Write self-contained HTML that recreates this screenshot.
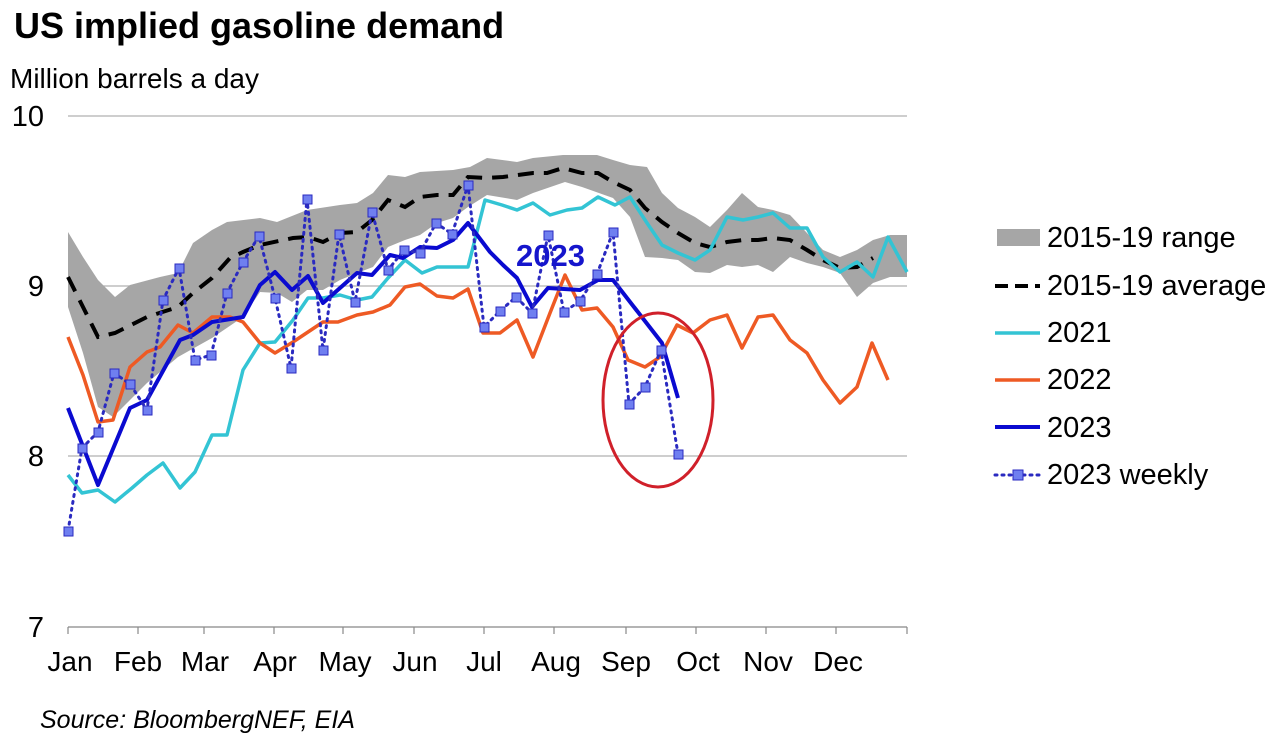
<!DOCTYPE html>
<html><head><meta charset="utf-8"><style>
body{margin:0;background:#fff;width:1280px;height:737px;overflow:hidden;font-family:"Liberation Sans",Arial,sans-serif}
</style></head><body>
<svg width="1280" height="737" viewBox="0 0 1280 737" xmlns="http://www.w3.org/2000/svg" font-family="Liberation Sans, Arial, sans-serif">
<text x="14" y="38" font-size="36" font-weight="bold" fill="#000">US implied gasoline demand</text>
<text x="10" y="88" font-size="28" fill="#000">Million barrels a day</text>
<g font-size="29" fill="#000" text-anchor="end">
<text x="44" y="126">10</text><text x="44" y="296">9</text><text x="44" y="466">8</text><text x="44" y="637">7</text>
</g>
<g stroke="#b0b0b0" stroke-width="1.2">
<line x1="68" y1="116" x2="907" y2="116"/><line x1="68" y1="286" x2="907" y2="286"/><line x1="68" y1="456" x2="907" y2="456"/>
</g>
<line x1="68" y1="627" x2="907" y2="627" stroke="#888" stroke-width="1.2"/>
<g stroke="#888" stroke-width="1.2">
<line x1="68" y1="627" x2="68" y2="634"/><line x1="138" y1="627" x2="138" y2="634"/><line x1="204" y1="627" x2="204" y2="634"/><line x1="274" y1="627" x2="274" y2="634"/><line x1="343" y1="627" x2="343" y2="634"/><line x1="414" y1="627" x2="414" y2="634"/><line x1="484" y1="627" x2="484" y2="634"/><line x1="554" y1="627" x2="554" y2="634"/><line x1="626" y1="627" x2="626" y2="634"/><line x1="696" y1="627" x2="696" y2="634"/><line x1="766" y1="627" x2="766" y2="634"/><line x1="836" y1="627" x2="836" y2="634"/><line x1="907" y1="627" x2="907" y2="634"/>
</g>
<g font-size="28" fill="#000" text-anchor="middle">
<text x="70" y="671">Jan</text><text x="138" y="671">Feb</text><text x="205" y="671">Mar</text><text x="275" y="671">Apr</text><text x="345" y="671">May</text><text x="415" y="671">Jun</text><text x="484" y="671">Jul</text><text x="556" y="671">Aug</text><text x="626" y="671">Sep</text><text x="698" y="671">Oct</text><text x="768" y="671">Nov</text><text x="838" y="671">Dec</text>
</g>
<polygon fill="#a6a6a6" points="68,232 83,257 98,280 115,297 130,285 160,277 178,273 193,243 212,230 227,222 260,218 277,222 307,210 340,205 357,203 373,193 388,175 405,177 420,172 453,170 470,167 487,158 517,162 533,158 563,155 597,155 613,160 630,165 647,167 662,193 678,208 695,217 710,227 727,210 742,193 758,207 773,210 790,215 807,233 823,250 840,257 857,250 873,240 890,235 907,235 907,277 890,277 873,283 857,297 840,273 823,267 807,263 790,257 773,272 758,265 742,267 727,265 710,273 695,272 678,260 662,258 645,257 630,217 613,198 582,187 565,182 533,193 517,200 487,195 468,207 453,218 437,223 420,235 405,240 388,247 373,267 357,273 340,280 323,290 307,290 292,302 277,293 260,292 243,317 212,338 178,357 147,383 130,400 113,417 98,407 83,353 68,307"/>
<polyline fill="none" stroke="#000" stroke-width="4" stroke-dasharray="16,10" points="68,277 83,307 98,337 115,333 147,317 178,307 193,293 212,278 230,258 243,252 260,245 293,238 308,237 323,242 340,233 357,232 372,220 388,200 405,207 420,197 437,195 453,195 468,177 487,178 503,177 533,173 547,173 563,168 582,173 598,173 613,182 630,190 645,208 662,222 678,233 695,243 710,247 727,242 743,240 758,240 773,238 790,240 807,250 823,260 840,268 857,267 873,258"/>
<polyline fill="none" stroke="#33c4d4" stroke-width="3.5" stroke-linejoin="round" points="68,475 82,493 98,490 115,502 132,488 147,475 163,463 180,488 195,472 212,435 227,435 243,370 260,343 275,342 293,320 308,298 323,298 340,295 357,300 372,297 388,278 405,260 422,273 437,267 453,267 468,267 485,200 502,205 517,210 533,203 550,215 567,210 582,208 598,197 615,205 630,197 647,223 662,245 678,253 695,260 710,250 727,217 743,220 758,217 773,213 790,228 807,228 823,257 840,272 857,262 873,277 888,237 907,272"/>
<polyline fill="none" stroke="#ee5a24" stroke-width="3.5" stroke-linejoin="round" points="68,337 83,375 98,422 113,420 130,367 147,352 160,347 178,325 193,333 212,317 230,317 243,322 260,343 275,353 293,342 323,322 338,322 357,315 373,312 390,305 405,287 420,284 437,296 453,298 468,289 483,333 500,333 517,320 533,357 550,313 565,275 582,310 597,308 613,327 628,360 645,367 660,357 677,325 693,333 710,320 727,315 742,348 758,317 773,315 790,340 807,353 823,380 840,403 857,387 872,343 888,380"/>
<polyline fill="none" stroke="#0a0ad0" stroke-width="4" stroke-linejoin="round" points="68,408 98,485 130,408 147,400 180,340 193,335 212,322 243,317 260,285 275,272 292,290 308,276 323,303 357,273 372,275 390,255 403,258 420,247 437,248 453,240 468,223 490,252 503,265 517,278 532,307 548,288 580,290 598,280 613,280 662,343 678,398"/>
<polyline fill="none" stroke="#2a2ac0" stroke-width="3" stroke-dasharray="2,5" stroke-linecap="round" points="68,531 82,448 98,432 114,373 130,384 147,410 163,300 179,268 195,360 211,355 227,293 243,262 259,236 275,298 291,368 307,199 323,350 339,234 355,302 372,212 388,270 404,250 420,253 436,223 452,234 468,185 484,327 500,311 516,297 532,313 548,235 564,312 580,301 597,274 613,232 629,404 645,387 661,350 678,454"/>
<g fill="#6f7ff0" stroke="#2a2ac0" stroke-width="1">
<rect x="64" y="527" width="9" height="9"/><rect x="78" y="444" width="9" height="9"/><rect x="94" y="428" width="9" height="9"/><rect x="110" y="369" width="9" height="9"/><rect x="126" y="380" width="9" height="9"/><rect x="143" y="406" width="9" height="9"/><rect x="159" y="296" width="9" height="9"/><rect x="175" y="264" width="9" height="9"/><rect x="191" y="356" width="9" height="9"/><rect x="207" y="351" width="9" height="9"/><rect x="223" y="289" width="9" height="9"/><rect x="239" y="258" width="9" height="9"/><rect x="255" y="232" width="9" height="9"/><rect x="271" y="294" width="9" height="9"/><rect x="287" y="364" width="9" height="9"/><rect x="303" y="195" width="9" height="9"/><rect x="319" y="346" width="9" height="9"/><rect x="335" y="230" width="9" height="9"/><rect x="351" y="298" width="9" height="9"/><rect x="368" y="208" width="9" height="9"/><rect x="384" y="266" width="9" height="9"/><rect x="400" y="246" width="9" height="9"/><rect x="416" y="249" width="9" height="9"/><rect x="432" y="219" width="9" height="9"/><rect x="448" y="230" width="9" height="9"/><rect x="464" y="181" width="9" height="9"/><rect x="480" y="323" width="9" height="9"/><rect x="496" y="307" width="9" height="9"/><rect x="512" y="293" width="9" height="9"/><rect x="528" y="309" width="9" height="9"/><rect x="544" y="231" width="9" height="9"/><rect x="560" y="308" width="9" height="9"/><rect x="576" y="297" width="9" height="9"/><rect x="593" y="270" width="9" height="9"/><rect x="609" y="228" width="9" height="9"/><rect x="625" y="400" width="9" height="9"/><rect x="641" y="383" width="9" height="9"/><rect x="657" y="346" width="9" height="9"/><rect x="674" y="450" width="9" height="9"/>
</g>
<text x="516" y="266" font-size="31" font-weight="bold" fill="#1515cc">2023</text>
<ellipse cx="658" cy="400" rx="55" ry="87" fill="none" stroke="#d0202a" stroke-width="3"/>
<rect x="997" y="229" width="43" height="17" fill="#a6a6a6"/>
<line x1="995" y1="286" x2="1040" y2="286" stroke="#000" stroke-width="4" stroke-dasharray="13,7"/>
<line x1="995" y1="333" x2="1040" y2="333" stroke="#33c4d4" stroke-width="3.5"/>
<line x1="995" y1="380" x2="1040" y2="380" stroke="#ee5a24" stroke-width="3.5"/>
<line x1="995" y1="427" x2="1040" y2="427" stroke="#0a0ad0" stroke-width="4"/>
<line x1="995" y1="475" x2="1040" y2="475" stroke="#2a2ac0" stroke-width="3" stroke-dasharray="2,5" stroke-linecap="round"/>
<rect x="1013" y="470" width="10" height="10" fill="#6f7ff0" stroke="#2a2ac0"/>
<g font-size="29" fill="#000">
<text x="1047" y="247">2015-19 range</text><text x="1047" y="295">2015-19 average</text><text x="1047" y="342">2021</text><text x="1047" y="389">2022</text><text x="1047" y="437">2023</text><text x="1047" y="484">2023 weekly</text>
</g>
<text x="40" y="728" font-size="25" font-style="italic" fill="#000">Source: BloombergNEF, EIA</text>
</svg>
</body></html>
